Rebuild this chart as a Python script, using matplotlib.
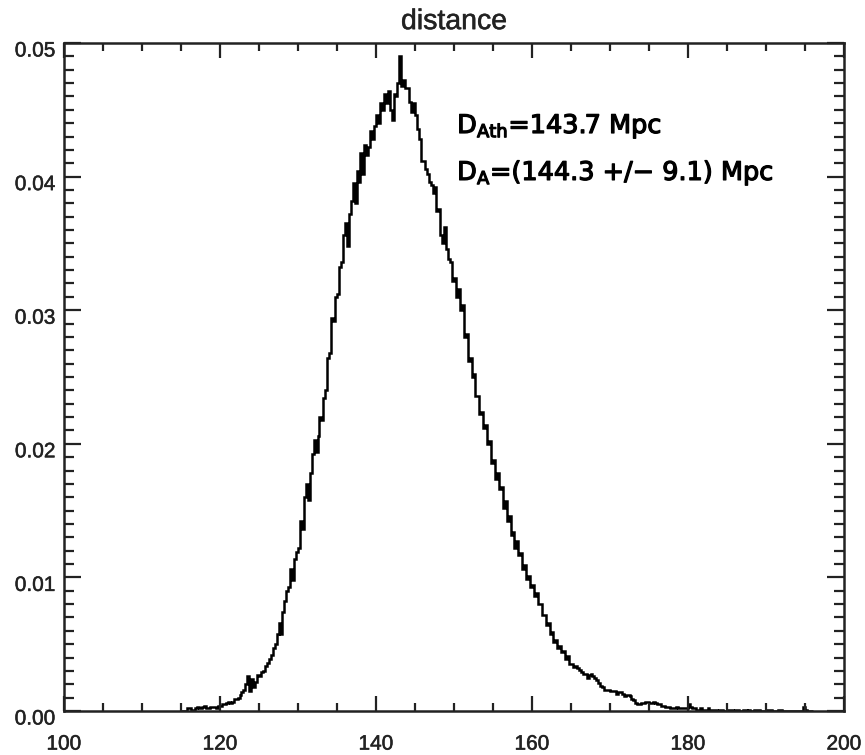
import numpy as np
import matplotlib
matplotlib.use('Agg')
import matplotlib.pyplot as plt
from matplotlib.ticker import MultipleLocator, FixedLocator
from matplotlib.transforms import ScaledTranslation
import matplotlib.patheffects as pe

# гистограмма расстояния, шаг бинов 0.25 Mpc, начало 115 Mpc
bin_start = 115.0
bin_width = 0.25
# значения плотности в единицах 1e-4
dens_1e4 = [
    0, 0, 0, 2, 2, 1, 1, 2, 3, 2,           # 115.0
    2, 3, 4, 2, 2, 3, 3, 3, 2, 4,           # 117.5
    4, 5, 5, 6, 7, 6, 7, 9, 9, 10,          # 120.0
    12, 14, 16, 20, 26, 15, 24, 18, 22, 27,  # 122.5
    26, 29, 30, 34, 36, 39, 42, 47, 50, 58,  # 125.0
    66, 58, 74, 82, 90, 93, 106, 98, 114, 119,         # 127.5
    122, 142, 136, 160, 170, 158, 178, 192, 203, 194,  # 130.0
    206, 220, 218, 234, 240, 264, 268, 294, 292, 310,  # 132.5
    312, 332, 336, 356, 365, 348, 372, 382, 395, 380,  # 135.0
    404, 396, 418, 402, 424, 416, 422, 434, 428, 438,  # 137.5
    446, 440, 455, 450, 462, 455, 464, 450, 442, 462,  # 140.0
    460, 470, 490, 468, 472, 466, 466, 456, 448, 455,  # 142.5
    446, 436, 428, 412, 412, 406, 402, 396, 394, 388,  # 145.0
    392, 374, 376, 356, 350, 362, 346, 338, 336, 322,  # 147.5
    324, 310, 316, 300, 304, 280, 282, 262, 264, 250,  # 150.0
    252, 236, 236, 222, 224, 212, 214, 200, 202, 186,  # 152.5
    188, 174, 178, 166, 168, 152, 157, 142, 146, 132,  # 155.0
    134, 122, 127, 117, 118, 106, 109, 99, 101, 93,    # 157.5
    94, 86, 88, 80, 80, 72, 72, 64, 66, 58,            # 160.0
    59, 52, 53, 47, 49, 44, 45, 39, 41, 35,            # 162.5
    35, 33, 34, 32, 31, 29, 28, 28, 25, 27,            # 165.0
    28, 26, 25, 23, 21, 19, 18, 16, 16, 16,            # 167.5
    15, 15, 15, 13, 14, 14, 13, 11, 12, 12,            # 170.0
    11, 9, 8, 6, 5, 5, 6, 6, 7, 7,                     # 172.5
    6, 6, 7, 6, 5, 5, 4, 4, 3, 3,                      # 175.0
    3, 2, 2, 2, 3, 2, 2, 2, 2, 2,                      # 177.5
    5, 3, 2, 2, 1, 1, 2, 1, 1, 1,                      # 180.0
    2, 1, 1, 1, 1, 0, 1, 1, 0, 0,                      # 182.5
    1, 1, 1, 0, 1, 1, 0, 0, 1, 1,                      # 185.0
    0, 1, 0, 0, 1, 1, 1, 0, 0, 0,                      # 187.5
    1, 1, 1, 0, 0, 0, 1, 1, 0, 0,                      # 190.0
    0, 0, 0, 0, 0, 0, 0, 0, 0, 3,                      # 192.5
    1, 0, 0, 0,                                        # 195.0
]

x_ticks = [100, 120, 140, 160, 180, 200]
y_ticks = [0.00, 0.01, 0.02, 0.03, 0.04, 0.05]
y_labels = ['0.00', '0.01', '0.02', '0.03', '0.04', '0.05']

text_line1 = r'$\mathregular{D_{Ath}}$=143.7 Mpc'
text_line2 = r'$\mathregular{D_{A}}$=(144.3 +/$-$ 9.1) Mpc'

dens = np.array(dens_1e4) * 1e-4
edges = bin_start + bin_width * np.arange(len(dens) + 1)

plt.rcParams['font.family'] = ['Liberation Sans', 'DejaVu Sans']

fig = plt.figure(figsize=(8.65, 7.55), dpi=100)
ax = fig.add_axes([64 / 865, 44 / 755, 780 / 865, 668 / 755])

ax.stairs(dens, edges, color='black', linewidth=1.8, baseline=None)

ax.set_xlim(100, 200)
ax.set_ylim(0, 0.05)

ax.xaxis.set_major_locator(FixedLocator(x_ticks))
ax.xaxis.set_minor_locator(MultipleLocator(5))
ax.yaxis.set_major_locator(FixedLocator(y_ticks))
ax.yaxis.set_minor_locator(MultipleLocator(0.001))
ax.set_yticklabels(y_labels)

ax.tick_params(which='both', direction='in', top=True, right=True,
               width=1.6, colors='#222222', labelcolor='#222222')
ax.tick_params(axis='x', which='major', length=10.5, pad=17, labelsize=15)
ax.tick_params(axis='x', which='minor', length=5.8)
ax.tick_params(axis='y', which='major', length=12, pad=6, labelsize=15)
ax.tick_params(axis='y', which='minor', length=7)

for sp in ax.spines.values():
    sp.set_linewidth(1.8)
    sp.set_color('#222222')

# подписи по y у IDL чуть ниже штрихов
offset = ScaledTranslation(0, -6 / 100, fig.dpi_scale_trans)
bold = [pe.withStroke(linewidth=0.4, foreground='#333333')]
for lab in ax.get_yticklabels():
    lab.set_transform(lab.get_transform() + offset)
    lab.set_path_effects(bold)
for lab in ax.get_xticklabels():
    lab.set_path_effects(bold)

ax.set_title('distance', fontsize=20.5, pad=10, color='#222222',
             path_effects=bold)

txt_fx = [pe.withStroke(linewidth=0.9, foreground='black')]
ax.text(0.504, 0.865, text_line1, transform=ax.transAxes, fontsize=18.4,
        family='DejaVu Sans', va='baseline', ha='left', path_effects=txt_fx)
ax.text(0.504, 0.795, text_line2, transform=ax.transAxes, fontsize=18.4,
        family='DejaVu Sans', va='baseline', ha='left', path_effects=txt_fx)

fig.savefig('out.png', dpi=100)
